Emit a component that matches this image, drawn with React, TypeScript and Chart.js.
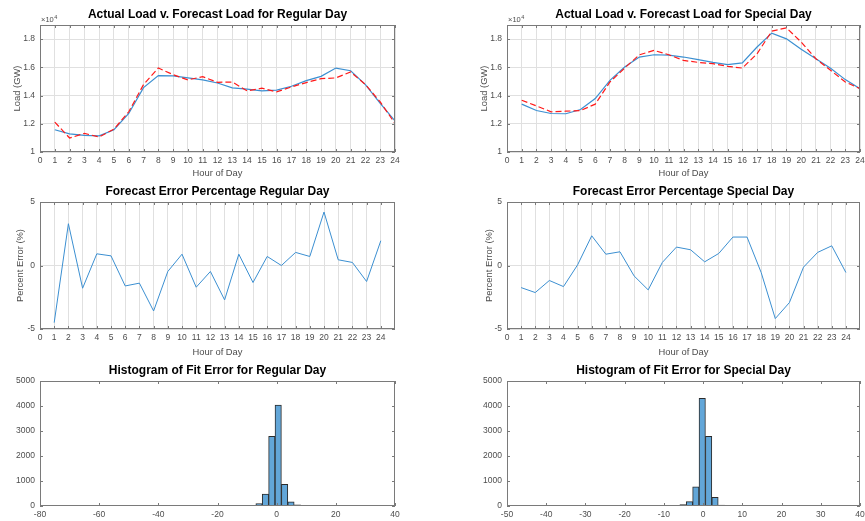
import React, { useEffect, useRef } from "react";
import { Chart, registerables } from "chart.js";
Chart.register(...registerables);

// ---------- DATA ----------
const hours = [1, 2, 3, 4, 5, 6, 7, 8, 9, 10, 11, 12, 13, 14, 15, 16, 17, 18, 19, 20, 21, 22, 23, 24];

const actualRegular = [11580, 11290, 11180, 11150, 11580, 12730, 14560, 15410, 15390, 15250, 15110, 14890, 14540, 14450, 14330, 14380, 14660, 15060, 15360, 15950, 15760, 14780, 13440, 12210];
const forecastRegular = [12120, 10990, 11320, 11060, 11620, 12850, 14780, 15950, 15480, 15110, 15340, 14940, 14960, 14330, 14520, 14260, 14610, 14920, 15200, 15250, 15670, 14780, 13550, 12020];

const actualSpecial = [13390, 12940, 12730, 12710, 13010, 13790, 15080, 16020, 16730, 16890, 16870, 16730, 16540, 16350, 16190, 16310, 17440, 18420, 18020, 17290, 16610, 15930, 15130, 14490];
const forecastSpecial = [13670, 13270, 12850, 12890, 12940, 13390, 14960, 15950, 16890, 17200, 16890, 16490, 16350, 16260, 16070, 15950, 16960, 18560, 18800, 17790, 16610, 15790, 14960, 14490];

const errorRegular = [-4.5, 3.29, -1.79, 0.92, 0.76, -1.61, -1.39, -3.58, -0.47, 0.89, -1.71, -0.47, -2.71, 0.89, -1.34, 0.71, 0.0, 1.03, 0.71, 4.21, 0.45, 0.24, -1.26, 1.95];
const errorSpecial = [-1.74, -2.13, -1.18, -1.66, 0.05, 2.34, 0.89, 1.08, -0.82, -1.92, 0.24, 1.45, 1.24, 0.29, 0.95, 2.24, 2.24, -0.55, -4.18, -2.92, -0.13, 1.03, 1.55, -0.55];

const histRegularCenters = [-5.96, -3.8, -1.64, 0.52, 2.68, 4.84, 7.0];
const histRegularCounts = [95, 480, 2790, 4040, 870, 165, 45];

const histSpecialCenters = [-6.745, -5.115, -3.485, -1.855, -0.225, 1.405, 3.035, 4.665];
const histSpecialCounts = [25, 60, 175, 770, 4310, 2790, 350, 35];

const hourTicks = [0, 1, 2, 3, 4, 5, 6, 7, 8, 9, 10, 11, 12, 13, 14, 15, 16, 17, 18, 19, 20, 21, 22, 23, 24];
const loadTicks = [10000, 12000, 14000, 16000, 18000];
const errorTicks = [-5, 0, 5];
const countTicks = [0, 1000, 2000, 3000, 4000, 5000];
const regularHistTicks = [-80, -60, -40, -20, 0, 20, 40];
const specialHistTicks = [-50, -40, -30, -20, -10, 0, 10, 20, 30, 40];

// ---------- STYLE ----------
const FONT = "'Liberation Sans', Arial, Helvetica, sans-serif";
const AXIS = "#7a7a7a";
const TICK_TEXT = "#4d4d4d";
const GRID = "#e0e0e0";
const BLUE = "#3b8fd1";
const RED = "#ff1a1a";
const BAR = "#62a6d8";
const PL = 46, PT = 26, PR = 10, PB = 30;
const XH = 22; // height reserved for x tick labels (inside bottom padding)

const decor = {
  id: "decor",
  afterDraw(chart: any, _args: any, opts: any) {
    const { ctx, chartArea: a, scales } = chart;
    const xs = scales.x, ys = scales.y;
    ctx.save();
    ctx.strokeStyle = AXIS;
    ctx.lineWidth = 1;
    ctx.beginPath();
    xs.ticks.forEach((t: any) => {
      const p = Math.round(xs.getPixelForValue(t.value)) + 0.5;
      ctx.moveTo(p, a.bottom);
      ctx.lineTo(p, a.bottom - 3);
      ctx.moveTo(p, a.top);
      ctx.lineTo(p, a.top + 3);
    });
    ys.ticks.forEach((t: any) => {
      const p = Math.round(ys.getPixelForValue(t.value)) + 0.5;
      ctx.moveTo(a.left, p);
      ctx.lineTo(a.left + 3, p);
      ctx.moveTo(a.right, p);
      ctx.lineTo(a.right - 3, p);
    });
    ctx.stroke();
    ctx.strokeRect(a.left + 0.5, a.top + 0.5, a.right - a.left - 1, a.bottom - a.top - 1);

    const cx = (a.left + a.right) / 2;
    ctx.fillStyle = "#000";
    ctx.font = `bold 12px ${FONT}`;
    ctx.textAlign = "center";
    ctx.textBaseline = "middle";
    ctx.fillText(opts.title, cx, a.top - 10);

    ctx.fillStyle = TICK_TEXT;
    ctx.font = `9.4px ${FONT}`;
    if (opts.xLabel) {
      ctx.fillText(opts.xLabel, cx, a.bottom + opts.xLabelOffset);
    }
    if (opts.yLabel) {
      ctx.save();
      ctx.translate(a.left - opts.yLabelOffset, (a.top + a.bottom) / 2);
      ctx.rotate(-Math.PI / 2);
      ctx.fillText(opts.yLabel, 0, 0);
      ctx.restore();
    }
    if (opts.exponent) {
      ctx.textAlign = "left";
      ctx.textBaseline = "alphabetic";
      ctx.font = `7.5px ${FONT}`;
      const base = "\u00d710";
      ctx.fillText(base, a.left + 1, a.top - 3);
      const w = ctx.measureText(base).width;
      ctx.font = `5.5px ${FONT}`;
      ctx.fillText("4", a.left + 1 + w + 0.5, a.top - 6.5);
    }
    ctx.restore();
  },
};

function axis(min: number, max: number, ticks: number[], fmt: (v: number) => string, grid: boolean, isX: boolean) {
  return {
    type: "linear",
    min,
    max,
    offset: false,
    afterBuildTicks: (s: any) => {
      s.ticks = ticks.map((v) => ({ value: v }));
    },
    afterFit: (s: any) => {
      if (isX) s.height = XH;
      else s.width = PL;
    },
    ticks: {
      autoSkip: false,
      maxRotation: 0,
      minRotation: 0,
      padding: isX ? 4 : 5,
      color: TICK_TEXT,
      font: { family: FONT, size: 8.5 },
      callback: (v: any) => fmt(Number(v)),
    },
    grid: { display: grid, offset: false, color: GRID, lineWidth: 1, drawTicks: false },
    border: { display: false },
  };
}

const fmtPlain = (v: number) => String(v);
const fmtLoad = (v: number) => String(+(v / 10000).toFixed(1));

function pts(xs: number[], ys: number[]) {
  return xs.map((x, i) => ({ x, y: ys[i] }));
}

function baseOptions(scales: any, decorOpts: any) {
  return {
    responsive: false,
    animation: false,
    events: [],
    layout: { padding: { left: 0, top: PT, right: PR, bottom: PB - XH } },
    plugins: { legend: { display: false }, title: { display: false }, tooltip: { enabled: false }, decor: decorOpts },
    scales,
  };
}

function loadConfig(title: string, actual: number[], forecast: number[]) {
  return {
    type: "line",
    data: {
      datasets: [
        { data: pts(hours, forecast), borderColor: RED, borderWidth: 1.2, borderDash: [6, 3], pointRadius: 0, tension: 0, fill: false },
        { data: pts(hours, actual), borderColor: BLUE, borderWidth: 1.2, pointRadius: 0, tension: 0, fill: false },
      ],
    },
    options: baseOptions(
      { x: axis(0, 24, hourTicks, fmtPlain, true, true), y: axis(10000, 19000, loadTicks, fmtLoad, true, false) },
      { title, xLabel: "Hour of Day", xLabelOffset: 21.5, yLabel: "Load (GW)", yLabelOffset: 23, exponent: true }
    ),
    plugins: [decor],
  };
}

function errorConfig(title: string, err: number[], yOff: number) {
  return {
    type: "line",
    data: {
      datasets: [{ data: pts(hours, err), borderColor: BLUE, borderWidth: 1, pointRadius: 0, tension: 0, fill: false }],
    },
    options: baseOptions(
      { x: axis(0, 25, hourTicks, fmtPlain, true, true), y: axis(-5, 5, errorTicks, fmtPlain, true, false) },
      { title, xLabel: "Hour of Day", xLabelOffset: 23, yLabel: "Percent Error (%)", yLabelOffset: yOff, exponent: false }
    ),
    plugins: [decor],
  };
}

function histConfig(title: string, centers: number[], counts: number[], xmin: number, xmax: number, xt: number[]) {
  return {
    type: "bar",
    data: {
      datasets: [
        {
          data: pts(centers, counts),
          backgroundColor: BAR,
          borderColor: "#2b2b2b",
          borderWidth: 1,
          borderSkipped: false,
          barPercentage: 1,
          categoryPercentage: 1,
        },
      ],
    },
    options: baseOptions(
      { x: axis(xmin, xmax, xt, fmtPlain, false, true), y: axis(0, 5000, countTicks, fmtPlain, false, false) },
      { title, exponent: false }
    ),
    plugins: [decor],
  };
}

type Spec = { L: number; T: number; W: number; H: number; make: () => any };

const specs: Spec[] = [
  { L: 40, T: 25, W: 355, H: 127, make: () => loadConfig("Actual Load v. Forecast Load for Regular Day", actualRegular, forecastRegular) },
  { L: 507, T: 25, W: 353, H: 127, make: () => loadConfig("Actual Load v. Forecast Load for Special Day", actualSpecial, forecastSpecial) },
  { L: 40, T: 202, W: 355, H: 127, make: () => errorConfig("Forecast Error Percentage Regular Day", errorRegular, 20) },
  { L: 507, T: 202, W: 353, H: 127, make: () => errorConfig("Forecast Error Percentage Special Day", errorSpecial, 18) },
  { L: 40, T: 381, W: 355, H: 125, make: () => histConfig("Histogram of Fit Error for Regular Day", histRegularCenters, histRegularCounts, -80, 40, regularHistTicks) },
  { L: 507, T: 381, W: 353, H: 125, make: () => histConfig("Histogram of Fit Error for Special Day", histSpecialCenters, histSpecialCounts, -50, 40, specialHistTicks) },
];

function Plot({ spec }: { spec: Spec }) {
  const ref = useRef<HTMLCanvasElement>(null);
  const w = spec.W + PL + PR;
  const h = spec.H + PT + PB;
  useEffect(() => {
    const chart = new Chart(ref.current as HTMLCanvasElement, spec.make());
    return () => chart.destroy();
  }, []);
  return (
    <canvas
      ref={ref}
      width={w}
      height={h}
      style={{ position: "absolute", left: spec.L - PL, top: spec.T - PT, width: w, height: h }}
    />
  );
}

export default function App() {
  return (
    <div style={{ position: "absolute", left: 0, top: 0, width: 865, height: 521, overflow: "hidden", background: "#fff" }}>
      {specs.map((s, i) => (
        <Plot key={i} spec={s} />
      ))}
    </div>
  );
}
